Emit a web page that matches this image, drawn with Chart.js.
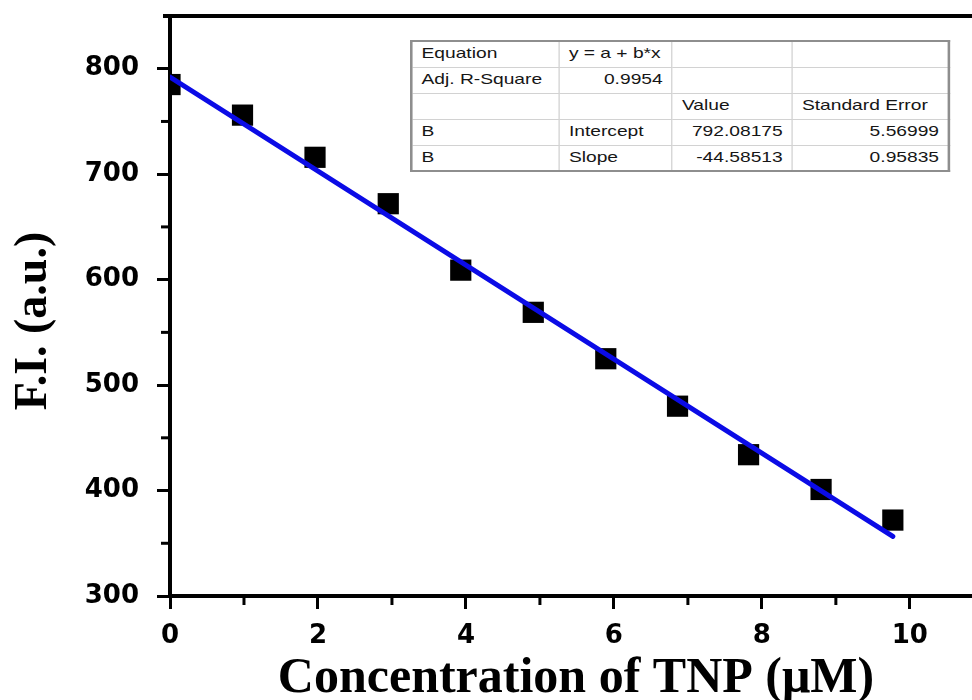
<!DOCTYPE html>
<html>
<head>
<meta charset="utf-8">
<title>F.I. vs TNP concentration</title>
<script src="https://cdn.jsdelivr.net/npm/chart.js@4.4.1/dist/chart.umd.min.js"></script>
<style>
    html, body { margin: 0; padding: 0; background: #fff; overflow: hidden; }
    #wrap { position: relative; width: 972px; height: 700px; }
    /* la figure d'origine est étirée horizontalement : on étire le tableau pareil */
    #fit-table {
        position: absolute;
        left: 410px;
        top: 40px;
        table-layout: fixed;
        border-collapse: collapse;
        background: #fff;
        border: 2px solid #8e8e8e;
        font-family: "Liberation Sans", Arial, sans-serif;
        font-size: 15px;
        color: #161616;
        transform: scaleX(1.28);
        transform-origin: 0 0;
    }
    #fit-table td {
        height: 26px;
        padding: 0 7px 3px 7px;
        border: 1px solid #d2d2d2;
        white-space: nowrap;
        line-height: 1;
        box-sizing: border-box;
    }
    #fit-table td.num { text-align: right; }
</style>
</head>
<body>
<div id="wrap">
    <canvas id="chart" width="972" height="700"></canvas>
    <table id="fit-table"></table>
</div>
<script>
// --- Données ---

const concentrations = [0, 0.98, 1.96, 2.95, 3.93, 4.91, 5.89, 6.86, 7.82, 8.8, 9.77];
const intensities    = [785, 756, 716, 672, 609, 569, 525, 480, 434, 401, 372];

// droite d'ajustement (extrémités)
const fitX = [0, 9.77];
const fitY = [792.1, 356.5];

const xTicks      = [0, 2, 4, 6, 8, 10];
const xMinorTicks = [1, 3, 5, 7, 9];
const yTicks      = [300, 400, 500, 600, 700, 800];
const yMinorTicks = [350, 450, 550, 650, 750];

const xTitle = 'Concentration of TNP (μM)';
const yTitle = 'F.I. (a.u.)';

// tableau de résultats du fit (Origin)
const tableRows = [
    ['Equation', 'y = a + b*x', '', ''],
    ['Adj. R-Square', '0.9954', '', ''],
    ['', '', 'Value', 'Standard Error'],
    ['B', 'Intercept', '792.08175', '5.56999'],
    ['B', 'Slope', '-44.58513', '0.95835']
];
const tableColWidths = [148, 113, 120, 157];
const tableStretch = 1.28;

// --- Tableau HTML ---

const table = document.getElementById('fit-table');
const colgroup = document.createElement('colgroup');
let tableWidth = 0;
tableColWidths.forEach(w => {
    const col = document.createElement('col');
    col.style.width = (w / tableStretch) + 'px';
    tableWidth += w / tableStretch;
    colgroup.appendChild(col);
});
table.style.width = tableWidth + 'px';
table.appendChild(colgroup);

tableRows.forEach(row => {
    const tr = document.createElement('tr');
    row.forEach(text => {
        const td = document.createElement('td');
        td.textContent = text;
        if (/^-?[\d.]+$/.test(text)) td.className = 'num';
        tr.appendChild(td);
    });
    table.appendChild(tr);
});

// --- Extras: cadre du haut, ticks mineurs, titres d'axes ---

const axisExtras = {
    id: 'axisExtras',
    afterDraw(chart) {
        const { ctx, chartArea: a, scales: { x, y } } = chart;
        ctx.save();
        ctx.strokeStyle = '#000';

        // ligne du haut
        ctx.lineWidth = 4;
        ctx.beginPath();
        ctx.moveTo(a.left - 7, a.top);
        ctx.lineTo(chart.width, a.top);
        ctx.stroke();

        // ticks mineurs
        ctx.lineWidth = 3;
        xMinorTicks.forEach(v => {
            const px = x.getPixelForValue(v);
            ctx.beginPath();
            ctx.moveTo(px, a.bottom);
            ctx.lineTo(px, a.bottom + 9);
            ctx.stroke();
        });
        yMinorTicks.forEach(v => {
            const py = y.getPixelForValue(v);
            ctx.beginPath();
            ctx.moveTo(a.left, py);
            ctx.lineTo(a.left - 9, py);
            ctx.stroke();
        });

        // titres
        ctx.fillStyle = '#000';
        ctx.font = 'bold 50px "Liberation Serif", "Times New Roman", serif';
        ctx.textAlign = 'center';
        ctx.textBaseline = 'alphabetic';
        ctx.fillText(xTitle, 576, 692);

        ctx.translate(34, 321);
        ctx.rotate(-Math.PI / 2);
        ctx.font = 'bold 46px "Liberation Serif", "Times New Roman", serif';
        ctx.textBaseline = 'middle';
        ctx.fillText(yTitle, 0, 0);

        ctx.restore();
    }
};

// --- Graphique ---

const tickFont = { family: 'DejaVu Sans', weight: 'bold', size: 26 };

new Chart(document.getElementById('chart'), {
    type: 'scatter',
    data: {
        datasets: [
            {
                label: 'Linear fit',
                type: 'line',
                order: 0,
                data: fitX.map((v, i) => ({ x: v, y: fitY[i] })),
                borderColor: '#0b0be6',
                borderWidth: 5,
                borderCapStyle: 'round',
                pointRadius: 0,
                fill: false
            },
            {
                label: 'F.I.',
                order: 1,
                data: concentrations.map((v, i) => ({ x: v, y: intensities[i] })),
                pointStyle: 'rect',
                pointRadius: 15,
                pointHoverRadius: 15,
                backgroundColor: '#000',
                borderColor: '#000',
                borderWidth: 0
            }
        ]
    },
    options: {
        responsive: false,
        animation: false,
        events: [],
        layout: {
            autoPadding: false,
            padding: { top: 16, right: 0, left: 0, bottom: 0 }
        },
        plugins: {
            legend: { display: false },
            tooltip: { enabled: false }
        },
        scales: {
            x: {
                type: 'linear',
                min: 0,
                max: 10.84,
                afterBuildTicks: s => { s.ticks = xTicks.map(v => ({ value: v })); },
                afterFit: s => {
                    s.height = 104;
                    s.paddingLeft = 0;
                    s.paddingRight = 0;
                },
                border: { display: true, width: 4, color: '#000' },
                grid: {
                    drawOnChartArea: false,
                    drawTicks: true,
                    tickLength: 13,
                    tickWidth: 3,
                    tickColor: '#000'
                },
                ticks: { color: '#000', font: tickFont, padding: 12, maxRotation: 0 }
            },
            y: {
                type: 'linear',
                min: 300,
                max: 850,
                afterBuildTicks: s => { s.ticks = yTicks.map(v => ({ value: v })); },
                afterFit: s => {
                    s.width = 170;
                    s.paddingTop = 0;
                    s.paddingBottom = 0;
                },
                border: { display: true, width: 4, color: '#000' },
                grid: {
                    drawOnChartArea: false,
                    drawTicks: true,
                    tickLength: 13,
                    tickWidth: 3,
                    tickColor: '#000'
                },
                ticks: { color: '#000', font: tickFont, padding: 18 }
            }
        }
    },
    plugins: [axisExtras]
});
</script>
</body>
</html>
